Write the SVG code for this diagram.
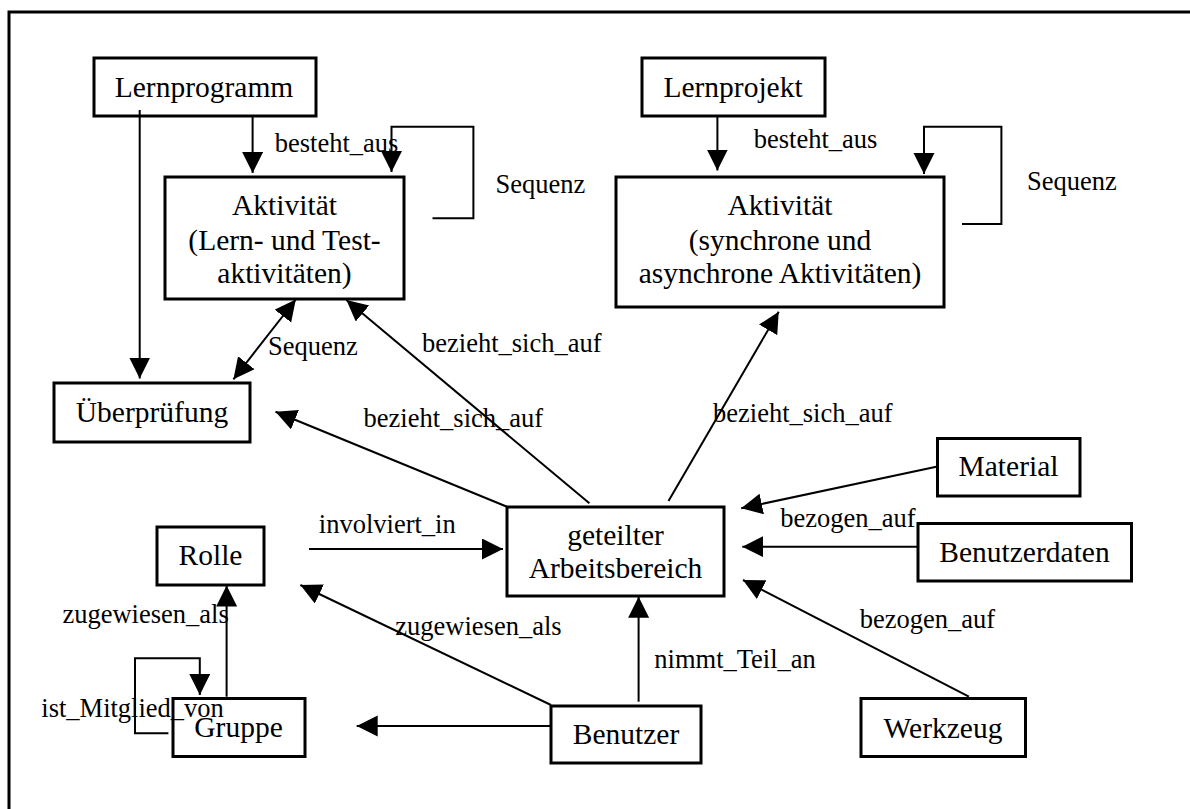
<svg xmlns="http://www.w3.org/2000/svg" width="1190" height="809" viewBox="0 0 1190 809">
<defs>
<style>
.box{fill:none;stroke:#000;stroke-width:3}
.nt{font-family:"Liberation Serif","Times New Roman",serif;font-size:29.5px;fill:#000;text-anchor:middle}
.el{font-family:"Liberation Serif","Times New Roman",serif;font-size:26.5px;fill:#000}
.c{fill:none;stroke:#000;stroke-width:2}
.a{marker-end:url(#ah)}
</style>
<marker id="ah" markerUnits="userSpaceOnUse" markerWidth="22" markerHeight="22" viewBox="0 0 22 22" refX="21" refY="10.5" orient="auto-start-reverse">
<path d="M0,0 L21,10.5 L0,21 z" fill="#000"/>
</marker>
</defs>
<rect width="1190" height="809" fill="#fff"/>
<rect x="9" y="12" width="1220" height="840" fill="none" stroke="#000" stroke-width="3"/>

<g id="lernprogramm"><rect class="box" x="94" y="58" width="222" height="58"/><text class="nt" x="204" y="97">Lernprogramm</text></g>
<g id="lernprojekt"><rect class="box" x="642" y="58" width="183" height="58"/><text class="nt" x="733" y="97">Lernprojekt</text></g>
<g id="aktivitaet1"><rect class="box" x="165" y="177" width="239" height="122"/><text class="nt"><tspan x="284.5" y="215">Aktivität</tspan><tspan x="284.5" y="250">(Lern- und Test-</tspan><tspan x="284.5" y="283">aktivitäten)</tspan></text></g>
<g id="aktivitaet2"><rect class="box" x="616" y="177" width="328" height="130"/><text class="nt"><tspan x="780" y="215">Aktivität</tspan><tspan x="780" y="250">(synchrone und</tspan><tspan x="780" y="283">asynchrone Aktivitäten)</tspan></text></g>
<g id="ueberpruefung"><rect class="box" x="54" y="383" width="196" height="59"/><text class="nt" x="152" y="422">Überprüfung</text></g>
<g id="arbeitsbereich"><rect class="box" x="507" y="507" width="217" height="89"/><text class="nt"><tspan x="615.5" y="545">geteilter</tspan><tspan x="615.5" y="578">Arbeitsbereich</tspan></text></g>
<g id="material"><rect class="box" x="937.5" y="438.5" width="142.5" height="57.5"/><text class="nt" x="1008.5" y="476">Material</text></g>
<g id="benutzerdaten"><rect class="box" x="918" y="523.5" width="213.5" height="57.5"/><text class="nt" x="1024.5" y="562">Benutzerdaten</text></g>
<g id="rolle"><rect class="box" x="157" y="527" width="107" height="58"/><text class="nt" x="210.5" y="565">Rolle</text></g>
<g id="gruppe"><rect class="box" x="173" y="698.5" width="132" height="58"/><text class="nt" x="238.5" y="737">Gruppe</text></g>
<g id="benutzer"><rect class="box" x="551" y="706" width="150" height="57"/><text class="nt" x="626" y="743.5">Benutzer</text></g>
<g id="werkzeug"><rect class="box" x="861" y="698.5" width="164.5" height="58"/><text class="nt" x="943" y="737.5">Werkzeug</text></g>

<g id="connectors">
<path class="c a" d="M252.6,116 V173"/>
<path class="c a" d="M139.7,110 V378.5"/>
<path class="c a" d="M432.5,218.3 H473.4 V126.7 H391.5 V172"/>
<path class="c a" d="M717.4,116 V170.5"/>
<path class="c a" d="M962,224 H1001.4 V126.7 H924 V174"/>
<path class="c a" d="M295.8,299.5 L233.4,379.3" marker-start="url(#ah)"/>
<path class="c a" d="M589.4,503.3 L346.4,300"/>
<path class="c a" d="M668.5,501 L778.7,311.7"/>
<path class="c a" d="M507,506.7 L275.5,411.7"/>
<path class="c a" d="M309,549 H503"/>
<path class="c a" d="M551,705 L300.4,585"/>
<path class="c a" d="M226.6,696.7 V585.5"/>
<path class="c a" d="M168.4,733.3 H135 V658.3 H199.8 V695"/>
<path class="c a" d="M551,726 H356.7"/>
<path class="c a" d="M638.6,701.7 V596.7"/>
<path class="c a" d="M936.3,466.7 L741.2,508.3"/>
<path class="c a" d="M918,546.7 H742.3"/>
<path class="c a" d="M968.9,696.7 L743,580"/>
<text class="el" x="274.8" y="151.7">besteht_aus</text>
<text class="el" x="495.6" y="193.3">Sequenz</text>
<text class="el" x="753.8" y="148.3">besteht_aus</text>
<text class="el" x="1027" y="190">Sequenz</text>
<text class="el" x="268" y="355">Sequenz</text>
<text class="el" x="422" y="351.7">bezieht_sich_auf</text>
<text class="el" x="363.6" y="426.7">bezieht_sich_auf</text>
<text class="el" x="713" y="421.7">bezieht_sich_auf</text>
<text class="el" x="318.8" y="533.3">involviert_in</text>
<text class="el" x="780.2" y="526.7">bezogen_auf</text>
<text class="el" x="62.4" y="623.3">zugewiesen_als</text>
<text class="el" x="395.3" y="635">zugewiesen_als</text>
<text class="el" x="859.8" y="628.3">bezogen_auf</text>
<text class="el" x="654.3" y="668.3">nimmt_Teil_an</text>
<text class="el" x="41.3" y="716.7">ist_Mitglied_von</text>
</g>
</svg>
